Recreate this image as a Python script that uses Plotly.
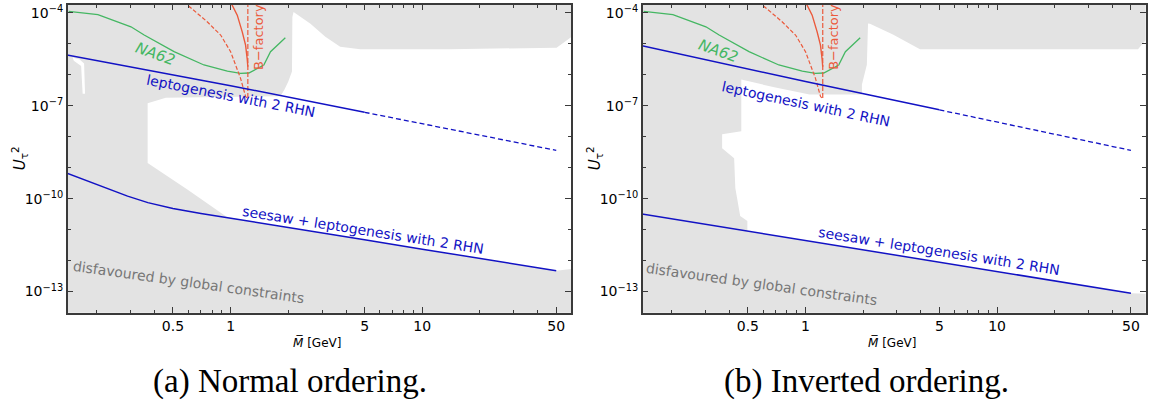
import numpy as np
import plotly.graph_objects as go

# ---------------- data ----------------
M_TICKS = [0.5, 1, 5, 10, 50]
M_TICK_TEXT = ["0.5", "1", "5", "10", "50"]
M_MINOR = [0.2, 0.3, 0.4, 0.6, 0.7, 0.8, 0.9, 2, 3, 4, 6, 7, 8, 9, 20, 30, 40]
U2_TICKS = [1e-13, 1e-10, 1e-7, 1e-4]
U2_TICK_TEXT = ["10<sup>−13</sup>", "10<sup>−10</sup>", "10<sup>−7</sup>", "10<sup>−4</sup>"]
U2_MINOR = [1e-12, 1e-11, 1e-9, 1e-8, 1e-6, 1e-5]

# NA62 sensitivity curve
na62_M = [0.143, 0.203, 0.302, 0.354, 0.507, 0.726, 0.962, 1.127, 1.245, 1.49, 1.615, 1.93]
na62_U2 = [1.1e-4, 8.6e-5, 3.5e-5, 1.9e-5, 5.5e-6, 2.05e-6, 1.3e-6, 1.1e-6, 1.13e-6, 2.05e-6, 5.5e-6, 1.54e-5]

# B-factory curves
bf_solid_M = [1.0, 1.083, 1.15, 1.197, 1.22, 1.23]
bf_solid_U2 = [2.2e-4, 8.3e-5, 2.4e-5, 9e-6, 3.3e-6, 1.8e-6]
bf_dash_M = [0.571, 0.757, 0.819, 0.887, 1.0, 1.127, 1.197, 1.23]
bf_dash_U2 = [2.2e-4, 5.0e-5, 3.06e-5, 1.9e-5, 5.5e-6, 7.6e-7, 2.0e-7, 1.6e-7]
bf_vert_M = [1.23, 1.23]
bf_vert_U2 = [2.2e-4, 1.6e-7]

# (a) normal ordering
no_lepto_M = [0.14, 1.0, 5.0]
no_lepto_U2 = [4.3e-6, 4.4e-7, 6.1e-8]
no_lepto_ext_M = [5.0, 50.0]
no_lepto_ext_U2 = [6.1e-8, 3.6e-9]
no_seesaw_M = [0.14, 0.2, 0.29, 0.37, 0.5, 0.7, 1, 2, 5, 10, 20, 50]
no_seesaw_U2 = [6.6e-10, 2.9e-10, 1.2e-10, 7.4e-11, 4.8e-11, 3.3e-11, 2.34e-11,
                1.17e-11, 4.7e-12, 2.34e-12, 1.17e-12, 4.7e-13]
no_allowed_M = [2.13, 2.61, 3.12, 3.73, 4.74, 13.9, 50.2, 55.2, 62, 62, 50, 10, 2, 1.0, 0.96,
                0.6, 0.369, 0.369, 0.432, 0.459, 1.82, 1.91, 2.0, 2.09, 2.1]
no_allowed_U2 = [1.05e-4, 4.4e-5, 1.66e-5, 7.9e-6, 6.6e-6, 6.6e-6, 7.4e-6, 1.15e-5, 1.9e-5,
                 5.5e-13, 4.7e-13, 2.34e-12, 1.17e-11, 2.34e-11, 2.5e-11,
                 1.9e-10, 1.4e-9, 1.2e-7, 1.6e-7, 1.8e-7, 2.0e-7, 3.3e-7, 6e-7, 1.26e-6, 7.3e-5]
no_sliver_M = [0.150, 0.163, 0.172, 0.174, 0.169, 0.166, 0.152]
no_sliver_U2 = [3.6e-6, 3.1e-6, 2.3e-6, 2.4e-7, 2.4e-7, 1.9e-6, 2.8e-6]

# (b) inverted ordering
io_lepto_M = [0.14, 1.0, 5.0]
io_lepto_U2 = [8.5e-6, 6.0e-7, 7.3e-8]
io_lepto_ext_M = [5.0, 50.0]
io_lepto_ext_U2 = [7.3e-8, 3.6e-9]
io_seesaw_M = [0.14, 0.5, 1, 5, 10, 50]
io_seesaw_U2 = [3.2e-11, 8.9e-12, 4.4e-12, 8.8e-13, 4.4e-13, 8.8e-14]
io_allowed_M = [62, 54.4, 3.96, 2.86, 2.17, 2.12, 2.09, 1.97, 1.97, 1.05, 0.687, 0.462, 0.462,
                0.367, 0.367, 0.424, 0.43, 0.456, 0.497, 0.497, 1, 10, 50, 62]
io_allowed_U2 = [1.7e-5, 6.6e-6, 6.6e-6, 1.96e-5, 4.4e-5, 4.5e-5, 2.1e-6, 4.8e-7, 2.3e-7, 2.3e-7,
                 3.9e-7, 7e-7, 1.5e-8, 1.2e-8, 4.2e-9, 2.0e-9, 2.2e-10, 2.75e-11, 1.9e-11, 9e-12,
                 4.4e-12, 4.4e-13, 8.8e-14, 8.5e-14]

CAPTIONS = ["(a) Normal ordering.", "(b) Inverted ordering."]

# ---------------- styling ----------------
W, H = 1158, 408
GREY_BG = "#e3e3e3"
BLUE = "#1212c4"
GREEN = "#45b763"
RED = "#eb5a3c"
GREYTXT = "#777777"
AX = "#3a3a3a"
FONT = "DejaVu Sans"

fig = go.Figure()

panels = [
    dict(xa="x", ya="y", allowed=[(no_allowed_M, no_allowed_U2), (no_sliver_M, no_sliver_U2)],
         lepto=(no_lepto_M, no_lepto_U2), lepto_ext=(no_lepto_ext_M, no_lepto_ext_U2),
         seesaw=(no_seesaw_M, no_seesaw_U2),
         lab_na62=(0.405, 4.6e-6), lab_lepto=(1.01, 2.0e-7, 11),
         lab_seesaw=(4.92, 9.8e-12, 9), lab_dis=(0.605, 2.1e-13, 8), lab_bf=(1.40, 1.6e-5)),
    dict(xa="x2", ya="y2", allowed=[(io_allowed_M, io_allowed_U2)],
         lepto=(io_lepto_M, io_lepto_U2), lepto_ext=(io_lepto_ext_M, io_lepto_ext_U2),
         seesaw=(io_seesaw_M, io_seesaw_U2),
         lab_na62=(0.352, 5.8e-6), lab_lepto=(1.0, 1.1e-7, 12),
         lab_seesaw=(4.98, 2.0e-12, 9), lab_dis=(0.588, 1.8e-13, 8), lab_bf=(1.40, 1.6e-5)),
]

annotations = []
for p in panels:
    xa, ya = p["xa"], p["ya"]
    for mx, uy in p["allowed"]:
        fig.add_trace(go.Scatter(x=mx, y=uy, mode="lines", fill="toself", fillcolor="white",
                                 line=dict(width=0, color="white"), xaxis=xa, yaxis=ya,
                                 hoverinfo="skip"))
    fig.add_trace(go.Scatter(x=na62_M, y=na62_U2, mode="lines", line=dict(color=GREEN, width=1.3),
                             xaxis=xa, yaxis=ya))
    fig.add_trace(go.Scatter(x=bf_solid_M, y=bf_solid_U2, mode="lines", line=dict(color=RED, width=1.4),
                             xaxis=xa, yaxis=ya))
    fig.add_trace(go.Scatter(x=bf_dash_M, y=bf_dash_U2, mode="lines",
                             line=dict(color=RED, width=1.2, dash="4px,2px"), xaxis=xa, yaxis=ya))
    fig.add_trace(go.Scatter(x=bf_vert_M, y=bf_vert_U2, mode="lines",
                             line=dict(color=RED, width=1.2, dash="5px,2px"), xaxis=xa, yaxis=ya))
    fig.add_trace(go.Scatter(x=p["lepto"][0], y=p["lepto"][1], mode="lines",
                             line=dict(color=BLUE, width=1.5), xaxis=xa, yaxis=ya))
    fig.add_trace(go.Scatter(x=p["lepto_ext"][0], y=p["lepto_ext"][1], mode="lines",
                             line=dict(color=BLUE, width=1.3, dash="5px,3px"), xaxis=xa, yaxis=ya))
    fig.add_trace(go.Scatter(x=p["seesaw"][0], y=p["seesaw"][1], mode="lines",
                             line=dict(color=BLUE, width=1.5), xaxis=xa, yaxis=ya))

    def dlab(text, pos, color, angle, size=14):
        annotations.append(dict(text=text, x=np.log10(pos[0]), y=np.log10(pos[1]), xref=xa, yref=ya,
                                showarrow=False, textangle=angle, xanchor="center", yanchor="middle",
                                font=dict(family=FONT, size=size, color=color)))

    dlab("<i>NA62</i>", p["lab_na62"], GREEN, 20, 15)
    dlab("leptogenesis with 2 RHN", p["lab_lepto"][:2], BLUE, p["lab_lepto"][2])
    dlab("seesaw + leptogenesis with 2 RHN", p["lab_seesaw"][:2], BLUE, p["lab_seesaw"][2])
    dlab("disfavoured by global constraints", p["lab_dis"][:2], GREYTXT, p["lab_dis"][2])
    dlab("B−factory", p["lab_bf"], RED, -90, 13)

axis_common = dict(type="log", showgrid=False, zeroline=False, showline=True, linecolor=AX,
                   linewidth=1.5, mirror="ticks", ticks="inside", ticklen=6, tickwidth=1.2,
                   tickcolor=AX, tickfont=dict(family=FONT, size=14, color="black"))
xr = [-0.85, 1.776]
yr = [-13.684, -3.743]
ydom = [(H - 312.3) / H, (H - 2.7) / H]
xdom1 = [67.7 / W, 571.0 / W]
xdom2 = [642.7 / W, 1145.7 / W]

xminor = dict(tickvals=M_MINOR, ticks="inside", ticklen=3.5, tickwidth=1, tickcolor=AX)
yminor = dict(tickvals=U2_MINOR, ticks="inside", ticklen=3.5, tickwidth=1, tickcolor=AX)

fig.update_layout(
    width=W, height=H, margin=dict(l=0, r=0, t=0, b=0),
    paper_bgcolor="white", plot_bgcolor=GREY_BG, showlegend=False,
    font=dict(family=FONT, size=14, color="black"),
    xaxis=dict(axis_common, domain=xdom1, range=xr, tickvals=M_TICKS, ticktext=M_TICK_TEXT,
               minor=xminor, anchor="y"),
    yaxis=dict(axis_common, domain=ydom, range=yr, tickvals=U2_TICKS, ticktext=U2_TICK_TEXT,
               minor=yminor, anchor="x"),
    xaxis2=dict(axis_common, domain=xdom2, range=xr, tickvals=M_TICKS, ticktext=M_TICK_TEXT,
                minor=xminor, anchor="y2"),
    yaxis2=dict(axis_common, domain=ydom, range=yr, tickvals=U2_TICKS, ticktext=U2_TICK_TEXT,
                minor=yminor, anchor="x2"),
)

def plab(text, px, py, size, family=FONT, angle=0, color="black"):
    annotations.append(dict(text=text, x=px / W, y=1 - py / H, xref="paper", yref="paper",
                            showarrow=False, textangle=angle, xanchor="center", yanchor="middle",
                            font=dict(family=family, size=size, color=color)))

for xoff in (0, 575):
    plab("<i>U</i><sub>τ</sub><sup>2</sup>", 19 + xoff, 157, 15, angle=-90)
    plab("<i>M\u0305</i> [GeV]", 317 + xoff, 342, 12)

plab(CAPTIONS[0], 290, 381, 33, family="Liberation Serif")
plab(CAPTIONS[1], 866, 381, 33, family="Liberation Serif")

fig.update_layout(annotations=annotations)
fig.write_html("out.html")
